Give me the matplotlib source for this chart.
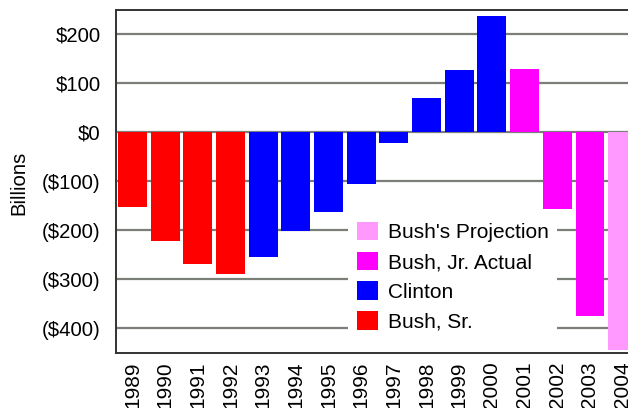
import matplotlib
matplotlib.use("Agg")
import matplotlib.pyplot as plt
from matplotlib.patches import Patch

years = [1989, 1990, 1991, 1992, 1993, 1994, 1995, 1996, 1997, 1998, 1999, 2000, 2001, 2002, 2003, 2004]
values = [-153, -222, -270, -290, -255, -203, -164, -107, -22, 69, 126, 236, 128, -158, -375, -445]
groups = ["Bush, Sr."] * 4 + ["Clinton"] * 8 + ["Bush, Jr. Actual"] * 3 + ["Bush's Projection"]
colors = {"Bush's Projection": "#ff99ff", "Bush, Jr. Actual": "#ff00ff",
          "Clinton": "#0000ff", "Bush, Sr.": "#ff0000"}
legend_order = ["Bush's Projection", "Bush, Jr. Actual", "Clinton", "Bush, Sr."]
yticks = [200, 100, 0, -100, -200, -300, -400]
ytick_labels = ["$200", "$100", "$0", "($100)", "($200)", "($300)", "($400)"]

plt.rcParams['font.family'] = ['Liberation Sans', 'DejaVu Sans']
fig = plt.figure(figsize=(6.28, 4.08), dpi=100)
W, H = 628, 408
ax = fig.add_axes([116 / W, 1 - 353 / H, (640 - 116) / W, (353 - 10) / H])

ax.bar(years, values, width=0.88, color=[colors[g] for g in groups], zorder=3)

x_left = 1988.495
x_right = x_left + (640 - 116) / 32.67
ax.set_xlim(x_left, x_right)
ax.set_ylim(-451, 249)
ax.set_yticks(yticks)
ax.set_yticklabels(ytick_labels, fontsize=14.6)
ax.set_xticks(years)
ax.set_xticklabels([str(y) for y in years], rotation=90, fontsize=15, va='top')
ax.tick_params(axis='y', length=0, pad=11)
ax.tick_params(axis='x', length=0, pad=6)
ax.yaxis.grid(True, color='#7a7f78', linewidth=1.6, zorder=0)
ax.set_axisbelow(True)
for s in ['left', 'top', 'bottom']:
    ax.spines[s].set_color('#333333')
    ax.spines[s].set_linewidth(1.4)
ax.spines['right'].set_visible(False)

ax.set_ylabel("Billions", fontsize=14.6)
ax.yaxis.set_label_coords(-88 / (640 - 116), 1 - (183 - 10) / (353 - 10))

handles = [Patch(facecolor=colors[g], edgecolor='none') for g in legend_order]
leg = fig.legend(handles, legend_order, loc='upper left',
                 bbox_to_anchor=(338 / W, 1 - 203 / H), frameon=True,
                 fontsize=15, handlelength=1.0, handleheight=1.0,
                 labelspacing=0.45, handletextpad=0.5, borderpad=0.4)
leg.get_frame().set_facecolor('white')
leg.get_frame().set_edgecolor('none')
leg.get_frame().set_alpha(1)
leg.set_zorder(5)

fig.savefig("out.png", dpi=100)
